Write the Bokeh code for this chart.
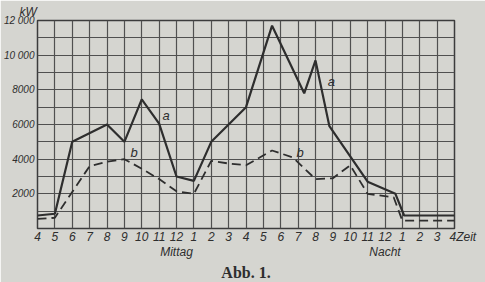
from bokeh.plotting import figure
from bokeh.models import FixedTicker, Label, Range1d, Title, LinearAxis
from bokeh.embed import file_html
from bokeh.resources import INLINE

# Time axis: hours from 4 (morning) to 28 (= 4 next morning)
hours_ticks = list(range(4, 29))
tick_labels = ["4", "5", "6", "7", "8", "9", "10", "11", "12", "1", "2", "3", "4",
               "5", "6", "7", "8", "9", "10", "11", "12", "1", "2", "3", "4Zeit"]
period_ticks = [12, 24]
period_labels = ["Mittag", "Nacht"]
y_ticks = [2000, 4000, 6000, 8000, 10000, 12000]
y_labels = ["2000", "4000", "6000", "8000", "10 000", "12 000"]

# Curve a (solid)
a_hours = [4, 5, 6, 8, 9, 10, 11, 12, 13, 14, 16, 17.5, 19.35, 20, 20.8, 23, 24.6, 25.1, 28]
a_kw = [750, 850, 5000, 6000, 5000, 7450, 6050, 3000, 2750, 5000, 7000, 11700, 7800, 9700,
        5900, 2700, 2000, 750, 750]

# Curve b (dashed)
b_hours = [4, 5, 7, 8, 9, 10, 11, 12, 13, 14, 15, 16, 17.5, 18.1, 18.7, 20, 21, 22, 23,
           24.5, 25, 28]
b_kw = [550, 620, 3600, 3850, 4000, 3450, 2850, 2150, 2000, 3900, 3750, 3650, 4500, 4300,
        4100, 2850, 2900, 3650, 2000, 1800, 450, 450]

BG = "#d5d5d0"
INK = "#2e2e2e"
GRID = "#505050"
FONT = "Liberation Sans"
NB = "\u00a0"

p = figure(width=485, height=282, x_range=Range1d(4, 28), y_range=Range1d(0, 12000),
           output_backend="svg", toolbar_location=None,
           min_border_left=37, min_border_right=31, min_border_top=20, min_border_bottom=54)
p.background_fill_color = BG
p.border_fill_color = BG
p.outline_line_color = "#3c3c3c"
p.outline_line_width = 1.5

p.xgrid.ticker = FixedTicker(ticks=hours_ticks)
p.ygrid.ticker = FixedTicker(ticks=list(range(0, 13000, 1000)))
for g in (p.xgrid, p.ygrid):
    g.grid_line_color = GRID
    g.grid_line_width = 1.2
    g.grid_line_alpha = 1.0

# "kW" unit above the y axis
p.title.text = "kW"
p.title.align = "left"
p.title.offset = -18
p.title.standoff = 3
p.title.text_font = FONT
p.title.text_font_style = "italic"
p.title.text_font_size = "12px"
p.title.text_color = INK

p.xaxis.ticker = FixedTicker(ticks=hours_ticks)
ov = {h: t for h, t in zip(hours_ticks, tick_labels)}
ov[28] = NB * 5 + ov[28]
p.xaxis.major_label_overrides = ov
p.yaxis.ticker = FixedTicker(ticks=y_ticks)
p.yaxis.major_label_overrides = {v: t for v, t in zip(y_ticks, y_labels)}

period_axis = LinearAxis(ticker=FixedTicker(ticks=period_ticks),
                         major_label_overrides={h: t for h, t in zip(period_ticks, period_labels)})
p.add_layout(period_axis, "below")

for ax in (p.xaxis[0], p.yaxis[0], period_axis):
    ax.axis_line_color = None
    ax.major_tick_line_color = None
    ax.minor_tick_line_color = None
    ax.major_tick_out = 0
    ax.major_tick_in = 0
    ax.major_label_text_font = FONT
    ax.major_label_text_font_style = "italic"
    ax.major_label_text_color = INK
    ax.major_label_text_font_size = "12px"
p.xaxis[0].major_label_standoff = 1
period_axis.major_label_standoff = -2
period_axis.major_label_text_font_size = "12px"
p.yaxis[0].major_label_standoff = 3
p.yaxis[0].major_label_text_font_size = "10px"

p.line(a_hours, a_kw, line_color=INK, line_width=2.2)
p.line(b_hours, b_kw, line_color=INK, line_width=1.8, line_dash="9 5")

def lab(text, x, y, size="13px"):
    p.add_layout(Label(x=x, y=y, text=text, text_font=FONT, text_font_size=size,
                       text_font_style="italic", text_color=INK, text_align="left",
                       text_baseline="middle"))

lab("a", 11.2, 6500)
lab("a", 20.7, 8500)
lab("b", 9.35, 4400)
lab("b", 18.9, 4400)

cap = Title(text="Abb. 1.", align="center", text_font="Liberation Serif",
            text_font_size="16px", text_font_style="bold", text_color=INK, standoff=0)
p.add_layout(cap, "below")

open("out.html", "w").write(file_html(p, INLINE))
